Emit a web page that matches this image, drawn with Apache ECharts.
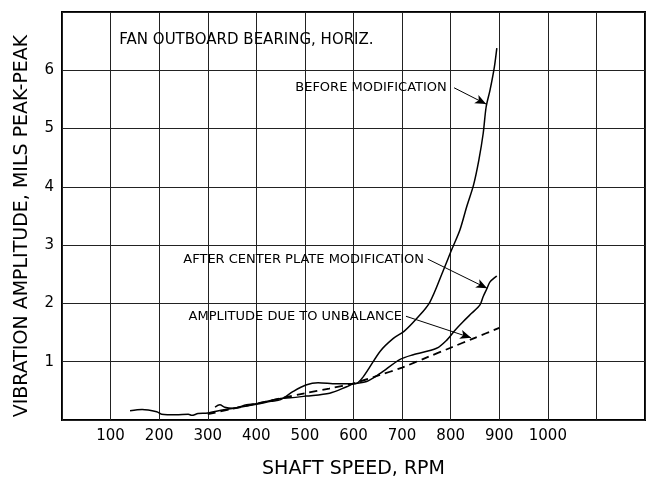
<!DOCTYPE html>
<html>
<head>
<meta charset="utf-8">
<script src="https://cdn.jsdelivr.net/npm/echarts@6/dist/echarts.min.js"></script>
<style>
  html, body { margin: 0; padding: 0; background: #fff; }
  #chart { width: 647px; height: 479px; }
</style>
</head>
<body>
<div id="chart"></div>
<script>
// curve: before modification
const beforeRpm = [140, 165, 195, 205, 235, 260, 267, 280, 300, 330, 360, 400, 430, 450, 476, 502, 527, 565, 603, 620, 655, 682, 704, 730, 757, 785, 802, 819, 833, 847, 858, 867, 873, 881, 890, 895];
const beforeAmp = [0.16, 0.18, 0.14, 0.10, 0.09, 0.10, 0.08, 0.11, 0.12, 0.17, 0.21, 0.27, 0.32, 0.35, 0.49, 0.60, 0.64, 0.62, 0.62, 0.74, 1.18, 1.40, 1.52, 1.74, 2.02, 2.57, 2.92, 3.26, 3.66, 4.03, 4.46, 4.92, 5.37, 5.66, 6.06, 6.38];

// after center plate modification
const afterRpm = [315, 325, 335, 350, 380, 400, 450, 470, 502, 551, 586, 600, 627, 655, 696, 723, 771, 792, 809, 826, 843, 860, 867, 875, 881, 895];
const afterAmp = [0.22, 0.26, 0.22, 0.20, 0.26, 0.28, 0.37, 0.38, 0.41, 0.46, 0.57, 0.62, 0.66, 0.80, 1.04, 1.12, 1.23, 1.37, 1.54, 1.69, 1.83, 1.97, 2.12, 2.26, 2.37, 2.47];

// amplitude due to unbalance (dashed)
const unbalRpm = [300, 350, 400, 450, 500, 550, 600, 650, 700, 750, 800, 850, 900];
const unbalAmp = [0.10, 0.19, 0.28, 0.37, 0.46, 0.54, 0.63, 0.76, 0.90, 1.07, 1.24, 1.41, 1.58];

const xTicks = [100, 200, 300, 400, 500, 600, 700, 800, 900, 1000];
const yTicks = [1, 2, 3, 4, 5, 6];

// annotations (data coords)
const noteText = ['FAN OUTBOARD BEARING, HORIZ.', 'BEFORE MODIFICATION', 'AFTER CENTER PLATE MODIFICATION', 'AMPLITUDE DUE TO UNBALANCE'];
const noteX = [118, 792, 745, 700];
const noteY = [6.52, 5.70, 2.76, 1.78];
const noteSide = ['right', 'left', 'left', 'left'];
const noteSize = [15, 13, 13, 13];
const leaderFrom = [[807, 5.70], [753, 2.76], [708, 1.78]];
const leaderTo = [[873, 5.42], [875, 2.26], [842, 1.41]];

const zip = (xs, ys) => xs.map((x, i) => [x, ys[i]]);
const font = 'DejaVu Sans';

const chart = echarts.init(document.getElementById('chart'));

chart.setOption({
  animation: false,
  textStyle: { fontFamily: font, color: '#000' },
  grid: {
    left: 62, right: 2, top: 12, bottom: 59,
    outerBoundsMode: 'none', containLabel: false,
    show: true, borderColor: '#000', borderWidth: 2
  },
  xAxis: {
    type: 'value', min: 0, max: 1200, interval: 100,
    name: 'SHAFT SPEED, RPM', nameLocation: 'middle', nameGap: 40,
    nameTextStyle: { fontFamily: font, fontSize: 19, color: '#000' },
    axisLine: { show: false },
    axisTick: { show: false },
    axisLabel: {
      margin: 9, fontSize: 15, color: '#000', fontFamily: font,
      formatter: v => (xTicks.includes(v) ? String(v) : '')
    },
    splitLine: { show: true, lineStyle: { color: '#222', width: 1 } }
  },
  yAxis: {
    type: 'value', min: 0, max: 7, interval: 1,
    name: 'VIBRATION AMPLITUDE, MILS PEAK-PEAK', nameLocation: 'middle', nameGap: 30,
    nameTextStyle: { fontFamily: font, fontSize: 19, color: '#000', padding: [0, 20, 0, 0] },
    axisLine: { show: false },
    axisTick: { show: false },
    axisLabel: {
      margin: 8, fontSize: 15, color: '#000', fontFamily: font,
      formatter: v => (yTicks.includes(v) ? String(v) : '')
    },
    splitLine: { show: true, lineStyle: { color: '#222', width: 1 } }
  },
  series: [
    {
      name: 'Before modification', type: 'line', data: zip(beforeRpm, beforeAmp),
      smooth: 0.3, showSymbol: false, lineStyle: { color: '#000', width: 1.5 }
    },
    {
      name: 'After center plate modification', type: 'line', data: zip(afterRpm, afterAmp),
      smooth: 0.3, showSymbol: false, lineStyle: { color: '#000', width: 1.5 }
    },
    {
      name: 'Amplitude due to unbalance', type: 'line', data: zip(unbalRpm, unbalAmp),
      smooth: 0.3, showSymbol: false, lineStyle: { color: '#000', width: 1.8, type: [8, 5] }
    },
    {
      name: 'notes', type: 'scatter', symbolSize: 0, silent: true,
      itemStyle: { opacity: 1, color: '#000' },
      data: noteText.map((t, i) => ({
        value: [noteX[i], noteY[i]],
        name: t,
        label: {
          show: true, position: noteSide[i], distance: 0, fontSize: noteSize[i],
          color: '#000', fontFamily: font, textBorderWidth: 0, formatter: t
        }
      })),
      markLine: {
        silent: true, symbol: ['none', 'arrow'], symbolSize: [7, 11],
        label: { show: false },
        lineStyle: { color: '#000', width: 1, type: 'solid', opacity: 1 },
        data: leaderFrom.map((f, i) => [{ coord: f }, { coord: leaderTo[i] }])
      }
    }
  ]
});
</script>
</body>
</html>
